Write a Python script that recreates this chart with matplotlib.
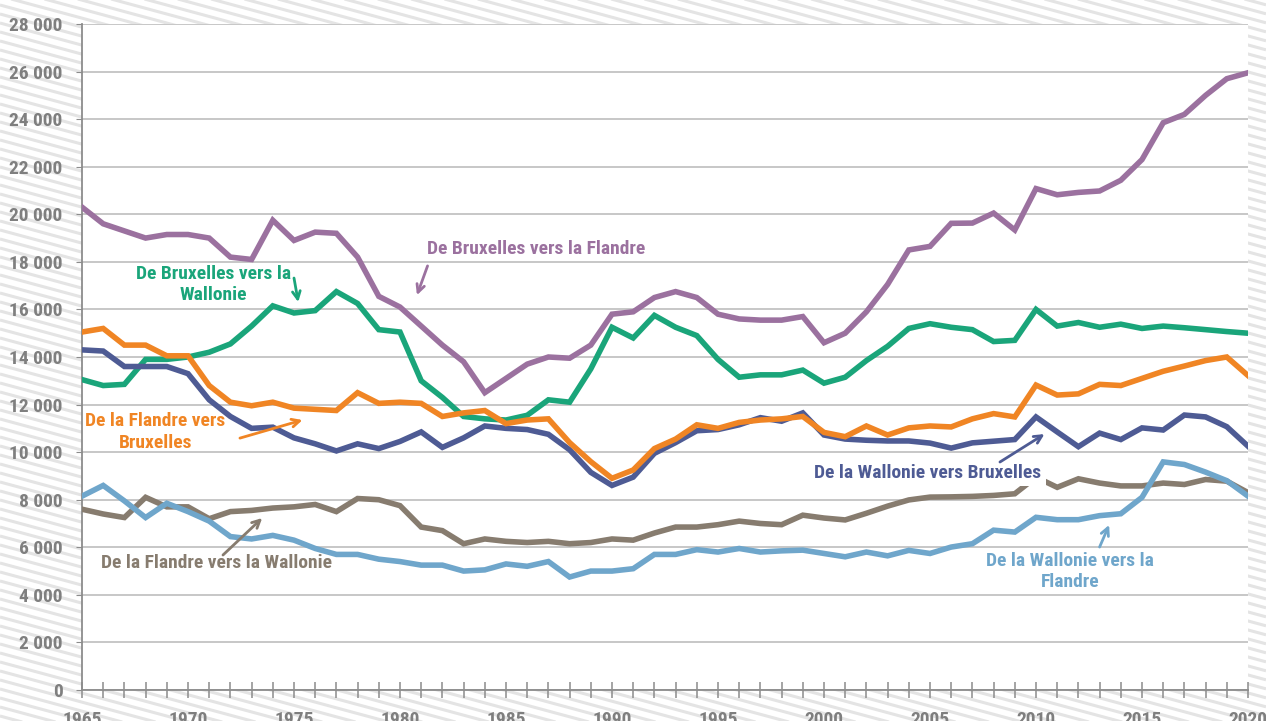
import matplotlib
matplotlib.use("Agg")
import matplotlib.pyplot as plt
from matplotlib.ticker import FuncFormatter, MultipleLocator
from matplotlib import font_manager
import numpy as np

years = list(range(1965, 2021))

bxl_fla = [20300, 19600, 19300, 19000, 19150, 19150, 19000, 18200, 18100, 19750,
           18900, 19250, 19200, 18200, 16550, 16100, 15300, 14500, 13800, 12500,
           13100, 13700, 14000, 13950, 14500, 15800, 15900, 16500, 16750, 16500,
           15800, 15600, 15550, 15550, 15700, 14600, 15000, 15900, 17050, 18500,
           18650, 19620, 19630, 20050, 19340, 21080, 20820, 20920, 20980, 21430,
           22300, 23850, 24200, 25000, 25700, 25950]

bxl_wal = [13050, 12800, 12850, 13900, 13900, 14000, 14200, 14550, 15300, 16150,
           15850, 15950, 16750, 16250, 15150, 15050, 13000, 12300, 11500, 11400,
           11350, 11550, 12200, 12100, 13500, 15250, 14800, 15750, 15250, 14900,
           13900, 13150, 13250, 13250, 13450, 12900, 13150, 13850, 14450, 15200,
           15400, 15250, 15150, 14650, 14700, 16000, 15300, 15450, 15250, 15380,
           15200, 15300, 15230, 15150, 15070, 15000]

fla_bxl = [15050, 15200, 14500, 14500, 14050, 14050, 12800, 12100, 11950, 12100,
           11850, 11800, 11750, 12500, 12050, 12100, 12050, 11500, 11650, 11750,
           11200, 11350, 11400, 10400, 9600, 8900, 9250, 10150, 10550, 11150,
           11000, 11250, 11350, 11400, 11500, 10830, 10650, 11100, 10720, 11020,
           11100, 11060, 11400, 11620, 11480, 12820, 12400, 12450, 12850, 12800,
           13100, 13400, 13620, 13850, 14000, 13220]

wal_bxl = [14300, 14250, 13600, 13600, 13600, 13300, 12200, 11500, 11000, 11050,
           10600, 10350, 10050, 10350, 10150, 10450, 10850, 10200, 10600, 11100,
           11000, 10950, 10750, 10100, 9150, 8600, 8950, 9950, 10400, 10900,
           10950, 11150, 11450, 11300, 11650, 10720, 10550, 10500, 10470, 10470,
           10380, 10170, 10390, 10460, 10530, 11480, 10850, 10230, 10800, 10530,
           11020, 10930, 11560, 11480, 11070, 10250]

fla_wal = [7600, 7400, 7250, 8100, 7700, 7700, 7200, 7500, 7550, 7650,
           7700, 7800, 7500, 8050, 8000, 7750, 6850, 6700, 6150, 6350,
           6250, 6200, 6250, 6150, 6200, 6350, 6300, 6600, 6850, 6850,
           6950, 7100, 7000, 6950, 7350, 7230, 7150, 7430, 7730, 7990,
           8110, 8120, 8140, 8180, 8250, 8950, 8520, 8880, 8700, 8580,
           8580, 8700, 8640, 8850, 8780, 8300]

wal_fla = [8150, 8600, 7950, 7250, 7850, 7500, 7100, 6450, 6350, 6500,
           6300, 5950, 5700, 5700, 5500, 5400, 5250, 5250, 5000, 5050,
           5300, 5200, 5400, 4750, 5000, 5000, 5100, 5700, 5700, 5900,
           5800, 5950, 5800, 5850, 5880, 5740, 5600, 5800, 5640, 5870,
           5740, 6010, 6150, 6720, 6640, 7260, 7160, 7160, 7330, 7410,
           8100, 9590, 9480, 9160, 8800, 8150]

series = [
    (bxl_fla, "#9b719f"),
    (bxl_wal, "#1aa57a"),
    (fla_wal, "#877c6f"),
    (wal_fla, "#6fa6cb"),
    (wal_bxl, "#4e5b94"),
    (fla_bxl, "#f08524"),
]

avail = {f.name for f in font_manager.fontManager.ttflist}
cands = ["Roboto Condensed", "Liberation Sans Narrow", "Open Sans Condensed", "Roboto"]
fam = [c for c in cands if c in avail][:1] + ["DejaVu Sans"]
plt.rcParams["font.family"] = fam

W, H = 1266, 721
fig = plt.figure(figsize=(W / 100, H / 100), dpi=100)
fig.patch.set_facecolor("white")

# striped background
bg = fig.add_axes([0, 0, 1, 1], zorder=0)
bg.set_xlim(0, W)
bg.set_ylim(H, 0)
bg.axis("off")
slope = 0.27
for c in np.arange(-400, H + 20, 9.0):
    bg.plot([0, W], [c, c + slope * W], color="#e4e4e4", lw=2.2, solid_capstyle="butt")

ax = fig.add_axes([82 / W, (H - 690) / H, (1248 - 82) / W, (690 - 24) / H], zorder=1)
ax.set_facecolor("white")
ax.set_xlim(1965, 2020)
ax.set_ylim(0, 28000)

ax.yaxis.set_major_locator(MultipleLocator(2000))
ax.yaxis.set_major_formatter(FuncFormatter(lambda v, p: f"{v:,.0f}".replace(",", " ")))
ax.xaxis.set_major_locator(MultipleLocator(5))
ax.xaxis.set_minor_locator(MultipleLocator(1))
ax.grid(axis="y", color="#bdbdbd", lw=1.2)
ax.set_axisbelow(True)

for s in ["top", "right"]:
    ax.spines[s].set_visible(False)
for s in ["left", "bottom"]:
    ax.spines[s].set_color("#8c8c8c")
    ax.spines[s].set_linewidth(1.3)

ax.tick_params(axis="y", which="major", direction="out", length=4, color="#8c8c8c",
               labelcolor="#7f7f7f", labelsize=14, pad=10)
ax.tick_params(axis="x", which="both", direction="inout", length=12, color="#8c8c8c",
               width=1.1, labelcolor="#7f7f7f", labelsize=14, pad=9)
for lab in ax.get_xticklabels() + ax.get_yticklabels():
    lab.set_fontweight("bold")

for vals, col in series:
    ax.plot(years, vals, color=col, lw=4.0, solid_joinstyle="miter", zorder=3)

fs = 14
def label(txt, x, y, col, ha="center", box=False):
    kw = {}
    if box:
        kw["bbox"] = dict(facecolor="white", edgecolor="none", pad=3)
    ax.text(x, y, txt, color=col, fontsize=fs, fontweight="bold", ha=ha, va="center",
            linespacing=1.25, zorder=5, **kw)

def arrow(x0, y0, x1, y1, col):
    ax.annotate("", xy=(x1, y1), xytext=(x0, y0),
                arrowprops=dict(arrowstyle="->", color=col, lw=2, mutation_scale=14,
                                shrinkA=0, shrinkB=0),
                zorder=5)

label("De Bruxelles vers la\nWallonie", 1971.2, 17050, "#1aa57a")
arrow(1975.0, 17320, 1975.2, 16310, "#1aa57a")

label("De Bruxelles vers la Flandre", 1981.27, 18540, "#9b719f", ha="left")
arrow(1981.3, 17830, 1980.8, 16600, "#9b719f")

label("De la Flandre vers\nBruxelles", 1968.45, 10850, "#f08524")
arrow(1972.45, 10590, 1975.4, 11350, "#f08524")

label("De la Flandre vers la Wallonie", 1965.9, 5340, "#877c6f", ha="left")
arrow(1971.65, 5675, 1973.5, 7230, "#877c6f")

label("De la Wallonie vers Bruxelles", 2004.9, 9120, "#4e5b94", box=True)
arrow(2008.3, 9585, 2010.4, 10760, "#4e5b94")

label("De la Wallonie vers la\nFlandre", 2011.6, 4980, "#6fa6cb")
arrow(2013.0, 6010, 2013.45, 6940, "#6fa6cb")

fig.savefig("out.png", dpi=100, facecolor="white")
